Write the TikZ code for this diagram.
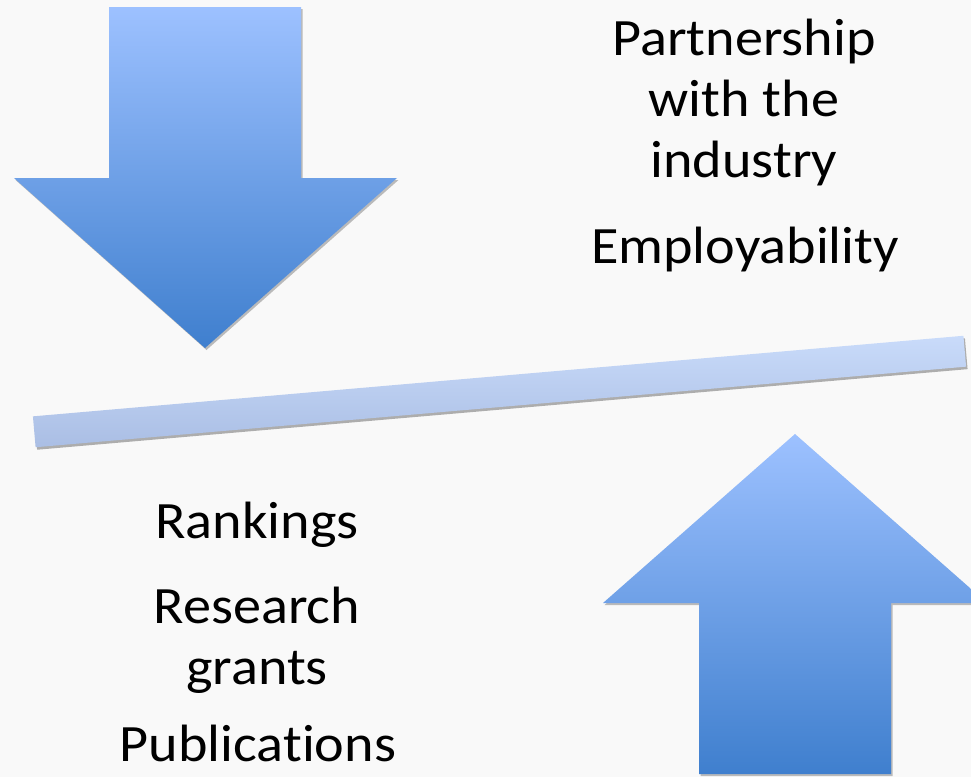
\documentclass[tikz,border=0pt]{standalone}
\usepackage{fontspec}
\setmainfont{Carlito}[RawFeature=-liga, FakeStretch=1.07]
\usetikzlibrary{positioning, calc, shadows}

\definecolor{arrowtop}{RGB}{157,193,255}
\definecolor{arrowbot}{RGB}{63,127,206}
\definecolor{bartop}{RGB}{201,219,250}
\definecolor{barbot}{RGB}{170,190,228}
\definecolor{bg}{RGB}{249,249,249}

\tikzset{
  bigarrow/.style={top color=arrowtop, bottom color=arrowbot, draw=none,
    drop shadow={shadow xshift=1.5pt, shadow yshift=-2pt, opacity=0.25, fill=black}},
  blocktext/.style={anchor=base, align=center, inner sep=0pt,
    font=\fontsize{52.5}{61}\selectfont}
}

\begin{document}
\begin{tikzpicture}[x=1pt, y=-1pt]
  \fill[bg] (0,0) rectangle (971,777);
  \useasboundingbox (0,0) rectangle (971,777);
  \clip (0,0) rectangle (971,777);

  % down arrow
  \path[bigarrow] (109,7) -- (301,7) -- (301,178) -- (397,178) -- (205,348)
    -- (14,178) -- (109,178) -- cycle;
  % up arrow
  \path[bigarrow] (699,774) -- (891,774) -- (891,603) -- (987,603) -- (795,434)
    -- (603,603) -- (699,603) -- cycle;

  % balance bar
  \node (bar) at (499.5,391.5) [rotate=4.95, minimum width=934pt, minimum height=31pt,
    inner sep=0pt, top color=bartop, bottom color=barbot,
    drop shadow={shadow xshift=1.5pt, shadow yshift=-2.5pt, opacity=0.3, fill=black}] {};

  % base = baseline of the last line
  \node[blocktext] (partner) at (744,177) {Partnership\\with the\\industry};
  \node[blocktext] (employ) at (745,263) {Employability};
  \node[blocktext] (rank) at (257,538) {Rankings};
  \node[blocktext] (grants) at (257,684) {Research\\grants};
  \node[blocktext] (pubs) at (258,761) {Publications};
\end{tikzpicture}
\end{document}
